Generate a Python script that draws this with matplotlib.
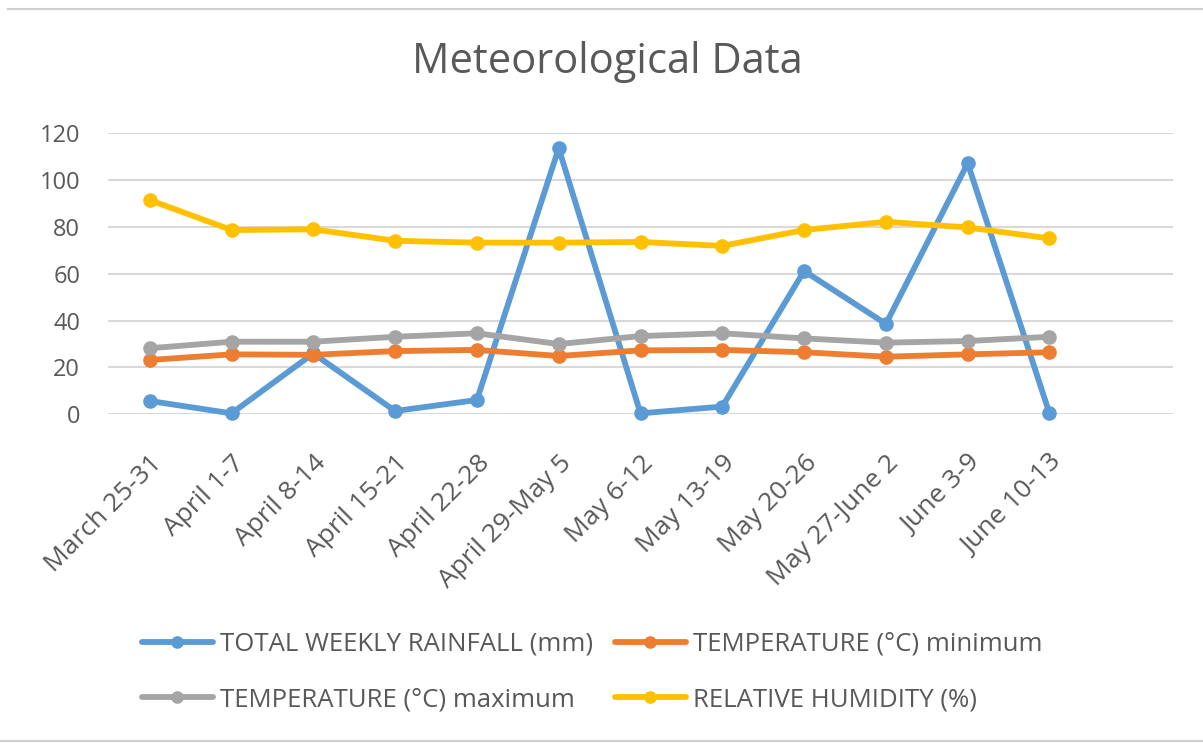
import matplotlib
matplotlib.use("Agg")
import matplotlib.pyplot as plt
from matplotlib.lines import Line2D

plt.rcParams['font.family'] = ['Open Sans', 'DejaVu Sans']

weeks = ["March 25-31", "April 1-7", "April 8-14", "April 15-21", "April 22-28",
         "April 29-May 5", "May 6-12", "May 13-19", "May 20-26", "May 27-June 2",
         "June 3-9", "June 10-13"]
rainfall = [5.7, 0.4, 26, 1.4, 6.1, 113.6, 0.4, 3.3, 61.2, 38.6, 107.2, 0.4]
temp_min = [23.2, 25.6, 25.4, 27.0, 27.5, 24.9, 27.3, 27.5, 26.5, 24.6, 25.6, 26.5]
temp_max = [28.2, 31.0, 31.0, 33.1, 34.6, 30.0, 33.4, 34.6, 32.4, 30.6, 31.3, 33.1]
humidity = [91.5, 78.7, 79.0, 74.1, 73.3, 73.3, 73.6, 71.9, 78.7, 82.2, 79.8, 75.1]

series = [
    ("TOTAL WEEKLY RAINFALL (mm)", rainfall, "#5B9BD5"),
    ("TEMPERATURE (\u00b0C) minimum", temp_min, "#ED7D31"),
    ("TEMPERATURE (\u00b0C) maximum", temp_max, "#A5A5A5"),
    ("RELATIVE HUMIDITY (%)", humidity, "#FFC000"),
]

W, H = 1203, 743
fig = plt.figure(figsize=(W / 100, H / 100), dpi=100)
ax = fig.add_axes([108 / W, 1 - 414.3 / H, (1173 - 108) / W, (414.3 - 133.3) / H])

x = list(range(len(weeks)))
lines = []
for name, vals, col in series:
    ln, = ax.plot(x, vals, color=col, lw=4.2, marker='o', markersize=9.5,
                  label=name, clip_on=False, solid_capstyle='round')
    lines.append(ln)

ax.set_xlim(-0.51, 12.51)
ax.set_ylim(0, 120)
ax.set_yticks(range(0, 121, 20))
ax.grid(axis='y', color='#D9D9D9', lw=1.5)
ax.set_axisbelow(True)
for s in ax.spines.values():
    s.set_visible(False)
ax.tick_params(axis='both', length=0, colors='#595959')
ax.tick_params(axis='y', pad=20, labelsize=17)
ax.set_xticks(x)
ax.set_xticklabels(weeks, rotation=45, ha='right', va='top',
                   rotation_mode='anchor', fontsize=19)
ax.tick_params(axis='x', pad=26)

fig.text(607 / W, 1 - 62 / H, "Meteorological Data", ha='center', va='center',
         fontsize=30, color='#595959')

# legend laid out as two columns, filled row by row
leg_kw = dict(loc='center left', frameon=False, fontsize=18.5, handlelength=2.75,
              handletextpad=0.27, labelspacing=1.2, borderpad=0, borderaxespad=0,
              labelcolor='#595959', markerscale=0.85)
leg1 = fig.legend([lines[0], lines[2]], [series[0][0], series[2][0]],
                  bbox_to_anchor=(142 / W, 1 - 672 / H), **leg_kw)
leg2 = fig.legend([lines[1], lines[3]], [series[1][0], series[3][0]],
                  bbox_to_anchor=(615 / W, 1 - 672 / H), **leg_kw)

# thin frame lines at top and bottom of the chart area
fig.add_artist(Line2D([8 / W, 1], [1 - 9 / H, 1 - 9 / H], color='#D0D0D0', lw=1.5))
fig.add_artist(Line2D([0, 1], [1 - 741 / H, 1 - 741 / H], color='#D0D0D0', lw=1.5))

fig.savefig("out.png", dpi=100)
